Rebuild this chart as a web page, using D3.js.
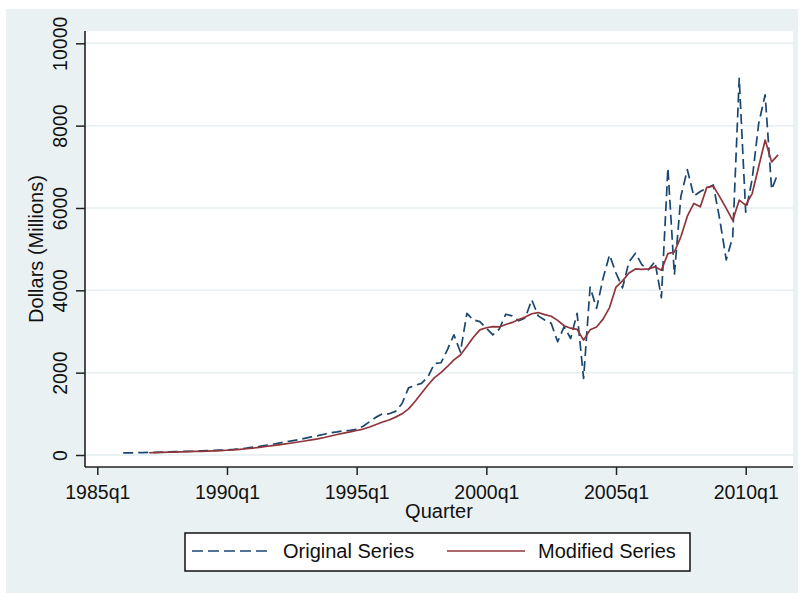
<!DOCTYPE html>
<html>
<head>
<meta charset="utf-8">
<script src="https://cdn.jsdelivr.net/npm/d3@7"></script>
<style>
  html, body { margin: 0; padding: 0; background: #ffffff; }
  svg { display: block; font-family: "Liberation Sans", Arial, sans-serif; }
</style>
</head>
<body>
<svg id="chart" width="803" height="593"></svg>
<script>
// ---- data (quarters counted from 1985q1 = 0) ----
const originalStart = 4;   // 1986q1
const originalSeries = [
  50, 52, 55, 58, 62, 66, 70, 75, 80, 85, 88, 92, 98, 105, 110, 118,
  125, 135, 150, 165, 190, 210, 235, 260, 290, 320, 345, 370, 405, 440,
  470, 505, 540, 560, 590, 600, 625, 700, 810, 920, 1000, 1000, 1060, 1250,
  1630, 1690, 1740, 1900, 2220, 2240, 2560, 2920, 2500, 3440, 3280, 3240,
  3080, 2920, 3060, 3420, 3380, 3260, 3330, 3770, 3380, 3280, 3200, 2750,
  3120, 2830, 3440, 1860, 4080, 3560, 4290, 4860, 4420, 4060, 4690, 4900,
  4620, 4500, 4700, 3820, 6970, 4380, 6280, 6930, 6290, 6400, 6480, 6560,
  5720, 4740, 5300, 9150, 5900, 6700, 8050, 8750, 6450, 6850
];
const modifiedStart = 8;   // 1987q1
const modifiedSeries = [
  55, 60, 64, 68, 72, 77, 82, 86, 90, 96, 102, 108, 115, 125, 138, 152,
  168, 186, 206, 226, 248, 270, 292, 316, 340, 366, 392, 425, 462, 497,
  530, 560, 595, 630, 680, 740, 800, 850, 920, 1000, 1120, 1300, 1500,
  1700, 1880, 2000, 2150, 2310, 2430, 2640, 2860, 3040, 3090, 3120, 3110,
  3170, 3220, 3290, 3350, 3430, 3460, 3410, 3370, 3270, 3140, 3080, 3050,
  2790, 3040, 3110, 3300, 3580, 4080, 4230, 4420, 4520, 4510, 4520, 4570,
  4490, 4890, 4930, 5300, 5800, 6110, 6030, 6500, 6530, 6270, 5990, 5700,
  6190, 6070, 6350, 7000, 7650, 7120, 7290
];
const xTickQuarters = [0, 20, 40, 60, 80, 100];
const xTickLabels = ["1985q1", "1990q1", "1995q1", "2000q1", "2005q1", "2010q1"];
const yTicks = [0, 2000, 4000, 6000, 8000, 10000];
const seriesNames = ["Original Series", "Modified Series"];
const xTitle = "Quarter";
const yTitle = "Dollars (Millions)";

// ---- layout ----
const svg = d3.select("#chart");
const plot = { left: 85, right: 793, top: 31, bottom: 467 };
const navy = "#1A476F", maroon = "#90353B";
const fontSize = 19.5;

const x = d3.scaleLinear().domain([0, 100]).range([97.3, 745.7]);
const y = d3.scaleLinear().domain([0, 10000]).range([455, 43.3]);

// outer graph region
svg.append("rect").attr("x", 6).attr("y", 9).attr("width", 792).attr("height", 590)
  .attr("fill", "#EAF1F3");
// plot region
svg.append("rect").attr("x", plot.left).attr("y", plot.top)
  .attr("width", plot.right - plot.left).attr("height", plot.bottom - plot.top)
  .attr("fill", "#ffffff");

// gridlines
svg.append("g").selectAll("line").data(yTicks).join("line")
  .attr("x1", plot.left).attr("x2", plot.right)
  .attr("y1", d => y(d)).attr("y2", d => y(d))
  .attr("stroke", "#E5EEF1").attr("stroke-width", 1.5);

// y axis
const yAxis = svg.append("g").attr("transform", `translate(${plot.left},0)`)
  .call(d3.axisLeft(y).tickValues(yTicks).tickSize(9).tickSizeOuter(0).tickFormat(d3.format("d")));
yAxis.select(".domain").attr("d", `M0,${plot.top}V${plot.bottom}`)
  .attr("stroke", "#222").attr("stroke-width", 1.6);
yAxis.selectAll(".tick line").attr("stroke", "#222").attr("stroke-width", 1.5);
yAxis.selectAll(".tick text")
  .attr("x", null).attr("dy", null)
  .attr("transform", "translate(-18.5,0) rotate(-90)")
  .attr("text-anchor", "middle")
  .attr("font-size", fontSize)
  .attr("font-family", "Liberation Sans, Arial, sans-serif")
  .attr("fill", "#111");

// x axis
const xAxis = svg.append("g").attr("transform", `translate(0,${plot.bottom})`)
  .call(d3.axisBottom(x).tickValues(xTickQuarters).tickSize(8).tickSizeOuter(0)
    .tickFormat((d, i) => xTickLabels[i]));
xAxis.select(".domain").attr("d", `M${plot.left},0H${plot.right}`)
  .attr("stroke", "#222").attr("stroke-width", 1.6);
xAxis.selectAll(".tick line").attr("stroke", "#222").attr("stroke-width", 1.5);
xAxis.selectAll(".tick text")
  .attr("y", 31.5).attr("dy", null)
  .attr("font-size", fontSize)
  .attr("font-family", "Liberation Sans, Arial, sans-serif")
  .attr("fill", "#111");

// axis titles
svg.append("text").attr("x", (plot.left + plot.right) / 2).attr("y", 518)
  .attr("text-anchor", "middle").attr("font-size", 20).attr("fill", "#111").text(xTitle);
svg.append("text").attr("transform", `translate(43,${(plot.top + plot.bottom) / 2}) rotate(-90)`)
  .attr("text-anchor", "middle").attr("font-size", 20).attr("fill", "#111").text(yTitle);

// series
const origData = originalSeries.map((v, i) => ({ q: originalStart + i, v }));
const modData = modifiedSeries.map((v, i) => ({ q: modifiedStart + i, v }));
const line = d3.line().x(d => x(d.q)).y(d => y(d.v));

svg.append("path").datum(origData).attr("d", line)
  .attr("fill", "none").attr("stroke", navy).attr("stroke-width", 1.7)
  .attr("stroke-dasharray", "10,5").attr("stroke-linejoin", "round");
svg.append("path").datum(modData).attr("d", line)
  .attr("fill", "none").attr("stroke", maroon).attr("stroke-width", 1.7)
  .attr("stroke-linejoin", "round");

// legend
const legend = svg.append("g");
legend.append("rect").attr("x", 185).attr("y", 533).attr("width", 505).attr("height", 38)
  .attr("fill", "#fff").attr("stroke", "#111").attr("stroke-width", 1.5);
const legendItems = [
  { name: seriesNames[0], color: navy, dash: "11,5", x0: 192 },
  { name: seriesNames[1], color: maroon, dash: null, x0: 447 }
];
legendItems.forEach(it => {
  legend.append("line").attr("x1", it.x0).attr("x2", it.x0 + 78)
    .attr("y1", 551).attr("y2", 551)
    .attr("stroke", it.color).attr("stroke-width", 1.7)
    .attr("stroke-dasharray", it.dash);
  legend.append("text").attr("x", it.x0 + 91).attr("y", 558)
    .attr("font-size", 20).attr("fill", "#111").text(it.name);
});
</script>
</body>
</html>
